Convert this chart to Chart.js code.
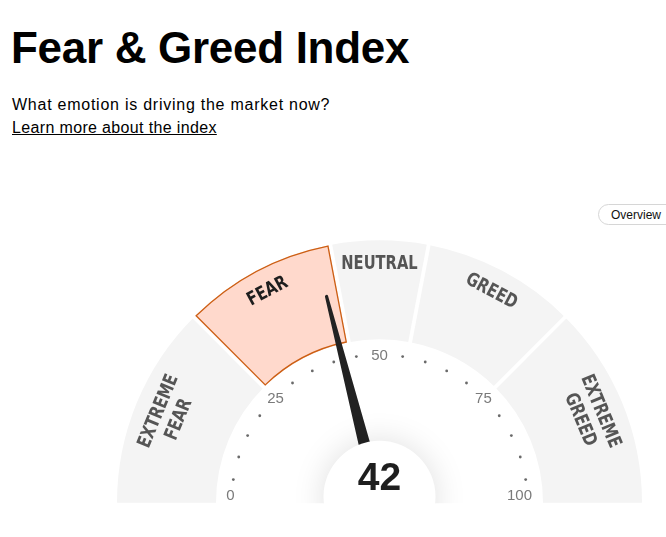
<!DOCTYPE html>
<html>
<head>
<meta charset="utf-8">
<script src="https://cdn.jsdelivr.net/npm/chart.js@4"></script>
<style>
  html, body { margin: 0; padding: 0; background: #fff; }
  body { width: 666px; height: 537px; position: relative; overflow: hidden; font-family: 'Liberation Sans', Arial, sans-serif; color: #000; }
  h1 { position: absolute; left: 11px; top: 22px; margin: 0; font-size: 44px; font-weight: bold; line-height: 52px; letter-spacing: -0.3px; }
  .sub { position: absolute; left: 12px; top: 95px; font-size: 16px; line-height: 20px; margin: 0; letter-spacing: 0.75px; }
  .link { position: absolute; left: 12px; top: 118px; font-size: 16px; line-height: 20px; color: #000; text-decoration: underline; letter-spacing: 0.35px; }
  .btn { position: absolute; left: 598px; top: 204px; width: 80px; height: 21px; border: 1px solid #d6d6d6; border-radius: 12px; font-size: 12px; line-height: 21px; box-sizing: border-box; padding-left: 12px; color: #111; }
  #wrap { position: absolute; left: 0; top: 0; width: 666px; height: 537px; }
</style>
</head>
<body>
<h1>Fear &amp; Greed Index</h1>
<p class="sub">What emotion is driving the market now?</p>
<a class="link">Learn more about the index</a>
<div class="btn">Overview</div>
<div id="wrap"><canvas id="c" width="666" height="537"></canvas></div>
<script>
// ---- data ----
const zoneLabels = [["EXTREME", "FEAR"], ["FEAR"], ["NEUTRAL"], ["GREED"], ["EXTREME", "GREED"]];
const zoneSizes = [25, 19, 12, 19, 25];
const tickLabels = ["0", "25", "50", "75", "100"];
const tickValues = [0, 25, 50, 75, 100];
const dotValues = [5, 10, 15, 20, 30, 35, 40, 45, 55, 60, 65, 70, 80, 85, 90, 95];
const currentValue = 42;
const activeZone = 1;

const GAP = 3.8;

const gaugePlugin = {
  id: 'gauge',
  afterDatasetsDraw(chart) {
    const ctx = chart.ctx;
    const arcs = chart.getDatasetMeta(0).data;
    const cx = arcs[0].x, cy = arcs[0].y;
    const R = arcs[0].outerRadius, r = arcs[0].innerRadius;
    const ang = v => -Math.PI + (v / 100) * Math.PI;

    // white separators between zones
    ctx.save();
    ctx.strokeStyle = '#ffffff';
    ctx.lineWidth = GAP;
    for (let i = 0; i < arcs.length - 1; i++) {
      const a = arcs[i].endAngle;
      ctx.beginPath();
      ctx.moveTo(cx + (r - 2) * Math.cos(a), cy + (r - 2) * Math.sin(a));
      ctx.lineTo(cx + (R + 2) * Math.cos(a), cy + (R + 2) * Math.sin(a));
      ctx.stroke();
    }
    ctx.restore();

    // outline of the active zone, inset from the separators
    const act = arcs[activeZone];
    const lw = 1.3;
    const d = GAP / 2 + lw / 2;
    const Ro = act.outerRadius - lw / 2, Ri = act.innerRadius + lw / 2;
    const s = act.startAngle, e = act.endAngle;
    ctx.save();
    ctx.strokeStyle = '#cc5f14';
    ctx.lineWidth = lw;
    ctx.lineJoin = 'miter';
    ctx.beginPath();
    ctx.arc(cx, cy, Ro, s + Math.asin(d / Ro), e - Math.asin(d / Ro), false);
    ctx.arc(cx, cy, Ri, e - Math.asin(d / Ri), s + Math.asin(d / Ri), true);
    ctx.closePath();
    ctx.stroke();
    ctx.restore();

    // zone labels
    let cum = 0;
    zoneLabels.forEach((lines, i) => {
      const mid = cum + zoneSizes[i] / 2;
      cum += zoneSizes[i];
      const a = ang(mid);
      ctx.save();
      ctx.font = "bold 19px 'DejaVu Sans Condensed', 'Liberation Sans Narrow', sans-serif";
      ctx.fillStyle = i === activeZone ? '#1e1e1e' : '#555555';
      ctx.textAlign = 'center';
      ctx.textBaseline = 'middle';
      if (lines.length === 1) {
        const rr = 239;
        ctx.translate(cx + rr * Math.cos(a), cy + rr * Math.sin(a));
        ctx.rotate(a + Math.PI / 2);
        ctx.scale(0.86, 1);
        ctx.fillText(lines[0], 0, 0);
      } else {
        const rr = 228;
        ctx.translate(cx + rr * Math.cos(a), cy + rr * Math.sin(a));
        ctx.rotate(a + Math.PI / 2);
        ctx.scale(0.86, 1);
        ctx.fillText(lines[0], 0, -11);
        ctx.fillText(lines[1], 0, 11);
      }
      ctx.restore();
    });

    // tick dots
    const rd = 148;
    ctx.save();
    ctx.fillStyle = '#6a6a6a';
    dotValues.forEach(v => {
      const a = ang(v);
      ctx.beginPath();
      ctx.arc(cx + rd * Math.cos(a), cy + rd * Math.sin(a), 1.4, 0, Math.PI * 2);
      ctx.fill();
    });
    ctx.restore();

    // tick labels
    ctx.save();
    ctx.font = "15px 'Liberation Sans', Arial, sans-serif";
    ctx.fillStyle = '#7a7a7a';
    ctx.textAlign = 'center';
    ctx.textBaseline = 'middle';
    tickValues.forEach((v, i) => {
      const a = ang(v);
      let rr = 147;
      if (v === 100) rr = 140;
      if (v === 0) rr = 149;
      ctx.fillText(tickLabels[i], cx + rr * Math.cos(a), cy + rr * Math.sin(a) - 7 * (v === 0 || v === 100 ? 1 : 0));
    });
    ctx.restore();

    // needle
    const a = ang(currentValue);
    const tipR = 213;
    const ux = Math.cos(a), uy = Math.sin(a);
    const px = -uy, py = ux;
    const baseW = 7.5, tipW = 1.6;
    ctx.save();
    ctx.fillStyle = '#222222';
    ctx.beginPath();
    ctx.moveTo(cx + px * baseW, cy + py * baseW);
    ctx.lineTo(cx + ux * tipR + px * tipW, cy + uy * tipR + py * tipW);
    ctx.arc(cx + ux * tipR, cy + uy * tipR, tipW, a + Math.PI / 2, a - Math.PI / 2, true);
    ctx.lineTo(cx - px * baseW, cy - py * baseW);
    ctx.closePath();
    ctx.fill();
    ctx.restore();

    // hub
    const hx = cx, hy = cy - 6, hr = 56;
    ctx.save();
    ctx.shadowColor = 'rgba(0,0,0,0.13)';
    ctx.shadowBlur = 32;
    ctx.fillStyle = '#ffffff';
    ctx.beginPath();
    ctx.arc(hx, hy, hr, 0, Math.PI * 2);
    ctx.fill();
    ctx.restore();

    ctx.save();
    ctx.font = "bold 39px 'Liberation Sans', Arial, sans-serif";
    ctx.fillStyle = '#1e1e1e';
    ctx.textAlign = 'center';
    ctx.textBaseline = 'alphabetic';
    ctx.fillText(String(currentValue), hx, 490);
    ctx.restore();

    // page below the gauge baseline
    ctx.save();
    ctx.fillStyle = '#ffffff';
    ctx.fillRect(0, cy + 0.5, chart.width, chart.height - cy);
    ctx.restore();
  }
};

const bg = zoneSizes.map((_, i) => i === activeZone ? '#ffd9cc' : '#f4f4f4');

new Chart(document.getElementById('c'), {
  type: 'doughnut',
  data: {
    labels: zoneLabels.map(l => l.join(' ')),
    datasets: [{
      data: zoneSizes,
      backgroundColor: bg,
      borderWidth: 0,
      spacing: 0
    }]
  },
  options: {
    responsive: false,
    animation: false,
    rotation: -90,
    circumference: 180,
    radius: 262.5,
    cutout: '62.29%',
    layout: { padding: { top: 206, left: 93, right: 0, bottom: 0 } },
    plugins: { legend: { display: false }, tooltip: { enabled: false } },
    events: []
  },
  plugins: [gaugePlugin]
});
</script>
</body>
</html>
